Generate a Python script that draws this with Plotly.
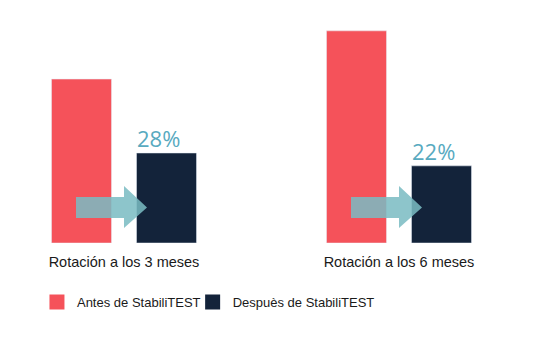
import plotly.graph_objects as go

categories = ["Rotación a los 3 meses", "Rotación a los 6 meses"]
before_vals = [51, 66]
after_vals = [28, 24]
after_labels = ["28%", "22%"]
series_names = ["Antes de StabiliTEST", "Despuès de StabiliTEST"]

RED = "#f5525a"
DARK = "#13233a"
ARROW = "rgba(122,188,195,0.86)"
PCT = "#58aabf"

W, H = 560, 361
PX_PER_X = 275.0          # pixels per category unit
BASE_PX = 243             # baseline from top
PX_PER_Y = 90 / 28.0      # pixels per value unit
XC0 = 124                 # pixel of first category center

px = 1 / PX_PER_X
py = 1 / PX_PER_Y

xpos = list(range(len(categories)))
bar_w = 60 * px
gap = 25 * px

fig = go.Figure()
fig.add_bar(x=xpos, y=before_vals, name=series_names[0], marker_color=RED,
            width=bar_w, offset=-(bar_w + gap / 2), showlegend=False)
fig.add_bar(x=xpos, y=after_vals, name=series_names[1], marker_color=DARK,
            width=bar_w, offset=gap / 2, showlegend=False)
# legend entries (square swatches), each in its own legend box
for name, col, lg in zip(series_names, [RED, DARK], ["legend", "legend2"]):
    fig.add_scatter(x=[None], y=[None], mode="markers", name=name, legend=lg,
                    marker=dict(symbol="square", size=15, color=col,
                                line=dict(width=0)))

shapes = []
for xc in xpos:
    s0 = xc - 48 * px
    hb = xc + 0 * px
    tip = xc + 23 * px
    y1, y2 = 25 * py, 46 * py
    h1, h2 = 15 * py, 57 * py
    ym = (y1 + y2) / 2
    path = (f"M{s0},{y1} L{hb},{y1} L{hb},{h1} L{tip},{ym} "
            f"L{hb},{h2} L{hb},{y2} L{s0},{y2} Z")
    shapes.append(dict(type="path", path=path, xref="x", yref="y",
                       fillcolor=ARROW, line=dict(width=0)))

annotations = []
for xc, v, t in zip(xpos, after_vals, after_labels):
    annotations.append(dict(x=xc + gap / 2 + bar_w / 2, y=v, xref="x", yref="y",
                            text=t, showarrow=False, yanchor="bottom",
                            yshift=-2, xshift=-8,
                            font=dict(family="Open Sans", size=22, color=PCT)))

x0 = -XC0 / PX_PER_X
x1 = (W - XC0) / PX_PER_X
ytop = BASE_PX / PX_PER_Y

legend_common = dict(orientation="h", xanchor="left", y=-0.243, yanchor="middle",
                     font=dict(size=13, color="#1a1a1a"), itemsizing="trace",
                     bgcolor="rgba(0,0,0,0)")

fig.update_layout(
    width=W, height=H,
    margin=dict(l=0, r=0, t=0, b=H - BASE_PX),
    plot_bgcolor="white", paper_bgcolor="white",
    showlegend=True,
    shapes=shapes,
    annotations=annotations,
    font=dict(family="Liberation Sans, Arial, sans-serif", size=14, color="#1a1a1a"),
    xaxis=dict(range=[x0, x1], tickvals=xpos, ticktext=categories,
               showgrid=False, zeroline=False, showline=False,
               ticks="outside", ticklen=6, tickcolor="rgba(0,0,0,0)",
               tickfont=dict(size=14.5, color="#1a1a1a")),
    yaxis=dict(range=[0, ytop], visible=False),
    legend=dict(x=0.066, **legend_common),
    legend2=dict(x=0.344, **legend_common),
)

fig.write_html("out.html")
